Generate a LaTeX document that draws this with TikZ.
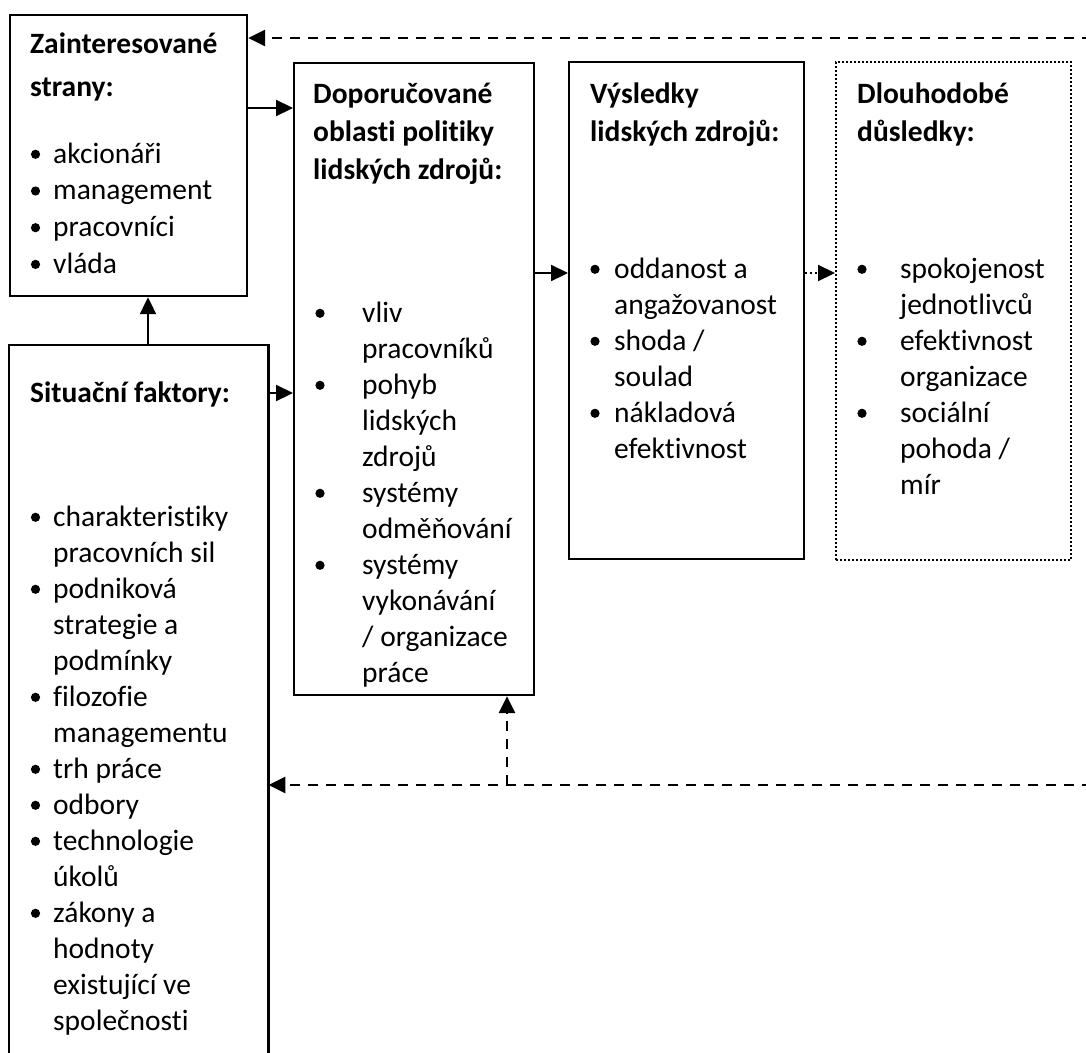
\documentclass[tikz,border=0pt]{standalone}
\usepackage{fontspec}
\setmainfont{Carlito}[Ligatures=NoCommon]
\usetikzlibrary{arrows.meta}
\tikzset{
  box/.style={draw, line width=2.2pt, inner sep=0pt, anchor=north west},
  dotbox/.style={draw, line width=2pt, dash pattern=on 2pt off 2pt, inner sep=0pt, anchor=north west},
  tip/.style={-{Triangle[length=17pt,width=16pt]}},
  arr/.style={line width=2.2pt, tip},
  dsh/.style={line width=2.8pt, dash pattern=on 10pt off 8pt, tip},
  dtt/.style={line width=2.2pt, dash pattern=on 2pt off 3pt, tip},
  txt/.style={anchor=base west, inner sep=0pt, font=\fontsize{29.5}{36}\selectfont},
  hd/.style={txt, font=\fontsize{29.5}{36}\selectfont\bfseries},
}
\begin{document}
\begin{tikzpicture}[x=1pt, y=-1pt]
\useasboundingbox (0,0) rectangle (1086,1052);
% boxes
\node[box, minimum width=237pt, minimum height=281pt] (Z) at (9,14) {};
\node[box, minimum width=240pt, minimum height=632pt] (D) at (293,62) {};
\node[box, minimum width=235pt, minimum height=497pt] (V) at (568,61) {};
\node[dotbox, minimum width=235pt, minimum height=498pt] (L) at (835,61) {};
\node[inner sep=0pt, anchor=north west, minimum width=259pt, minimum height=730pt] (S) at (9,345) {};
\draw[line width=2.2pt] (S.south west) -- (S.north west) -- (S.north east) -- (S.south east);

% Zainteresované strany
\node[hd] (zh1) at (30,53) {Zainteresované};
\node[hd] (zh2) at (30,96) {strany:};
\foreach \t [count=\i from 0] in {akcionáři, management, pracovníci, vláda}
  {\node[txt] (z\i) at (53,{163+36.7*\i}) {\t};
   \fill (35.5,{163+36.7*\i-8.7}) circle (4.6pt);}

% Doporučované oblasti
\node[hd] (dh1) at (313,103) {Doporučované};
\node[hd] (dh2) at (313,141) {oblasti politiky};
\node[hd] (dh3) at (313,179) {lidských zdrojů:};
\foreach \t [count=\i from 0] in {vliv, pracovníků, pohyb, lidských, zdrojů, systémy, odměňování, systémy, vykonávání, / organizace, práce}
  {\node[txt] (d\i) at (362,{322+36*\i}) {\t};}
\foreach \i in {0,2,5,7} \fill (320,{322+36*\i-8.7}) circle (4.6pt);

% Výsledky
\node[hd] (vh1) at (590,103) {Výsledky};
\node[hd] (vh2) at (590,141) {lidských zdrojů:};
\foreach \t [count=\i from 0] in {oddanost a, angažovanost, shoda /, soulad, nákladová, efektivnost}
  {\node[txt] (v\i) at (614,{278+36*\i}) {\t};}
\foreach \i in {0,2,4} \fill (595,{278+36*\i-8.7}) circle (4.6pt);

% Dlouhodobé důsledky
\node[hd] (lh1) at (857,103) {Dlouhodobé};
\node[hd] (lh2) at (857,141) {důsledky:};
\foreach \t [count=\i from 0] in {spokojenost, jednotlivců, efektivnost, organizace, sociální, pohoda /, mír}
  {\node[txt] (l\i) at (900,{278+36*\i}) {\t};}
\foreach \i in {0,2,4} \fill (862,{278+36*\i-8.7}) circle (4.6pt);

% Situační faktory
\node[hd] (sh1) at (30,402) {Situační faktory:};
\foreach \t [count=\i from 0] in {charakteristiky, pracovních sil, podniková, strategie a, podmínky, filozofie, managementu, trh práce, odbory, technologie, úkolů, zákony a, hodnoty, existující ve, společnosti}
  {\node[txt] (s\i) at (53,{526+36*\i}) {\t};}
\foreach \i in {0,2,5,7,8,9,11} \fill (35.5,{526+36*\i-8.7}) circle (4.6pt);

% connectors
\coordinate (y1) at (0,108);
\coordinate (y2) at (0,393);
\coordinate (y3) at (0,273);
\coordinate (x1) at (148,0);
\draw[arr] (Z.east |- y1) -- (D.west |- y1);
\draw[arr] (S.east |- y2) -- (D.west |- y2);
\draw[arr] (S.north -| x1) -- (Z.south -| x1);
\draw[arr] (D.east |- y3) -- (V.west |- y3);
\draw[dtt] (V.east |- y3) -- (L.west |- y3);
\coordinate (rt) at (1092,38);
\coordinate (rb) at (1092,785);
\coordinate (br) at (507,785);
\draw[dsh] (rt) -- (rt -| Z.east);
\draw[dsh] (rb) -- (rb -| S.east);
\draw[dsh] (br) -- (br |- D.south);
\end{tikzpicture}
\end{document}
